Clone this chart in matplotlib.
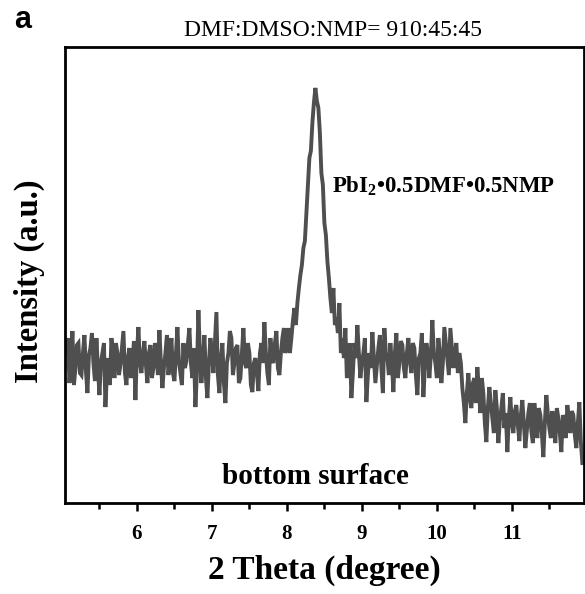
import numpy as np
import matplotlib
matplotlib.use('Agg')
import matplotlib.pyplot as plt

# XRD scan, step 0.02 deg starting at 5.06 deg
start_2theta = 5.06
step_2theta = 0.02

# 5.06 - 7.98 : flat background
background_left = [150, 165, 120, 140, 172, 118, 135, 158, 160, 130, 128, 150, 168, 132, 110, 148, 155, 170, 140, 122,
                   165, 135, 108, 140, 150, 160, 96, 130, 145, 118, 165, 150, 125, 160, 150, 128, 138, 155, 172, 130,
                   118, 145, 155, 125, 140, 162, 103, 150, 176, 140, 130, 150, 162, 138, 120, 150, 158, 125, 135, 160,
                   150, 128, 173, 140, 115, 135, 150, 168, 128, 145, 165, 130, 122, 150, 176, 142, 130, 118, 160, 135,
                   142, 160, 175, 140, 125, 155, 96, 130, 193, 150, 120, 145, 168, 125, 105, 140, 165, 150, 130, 160,
                   191, 128, 110, 145, 160, 120, 100, 140, 150, 172, 165, 128, 140, 155, 158, 120, 125, 150, 175, 140,
                   135, 160, 150, 118, 111, 140, 145, 130, 112, 150, 160, 140, 181, 150, 130, 118, 165, 145, 140, 160,
                   172, 135, 128, 150, 165, 175, 150]
# 8.00 - 8.80 : solvate peak
peak = [160, 175, 150, 165, 182, 195, 178, 200, 215, 228,
        238, 255, 262, 290, 318, 345, 352, 380, 400, 415,
        402, 395, 370, 330, 318, 280, 268, 242, 225, 205,
        190, 215, 178, 185, 170, 200, 150, 165, 145, 175, 125]
# 8.82 - 10.30
background_mid = [140, 160, 105, 130, 160, 145, 178, 150, 125, 140, 150, 165, 101, 128, 150, 135, 171, 145, 120, 138,
                  155, 168, 135, 110, 175, 150, 145, 128, 160, 140, 111, 150, 170, 125, 140, 162, 158, 135, 125, 150,
                  165, 142, 130, 160, 155, 128, 108, 145, 150, 170, 106, 135, 160, 150, 125, 148, 183, 150, 140, 125,
                  165, 150, 120, 140, 176, 160, 145, 128, 175, 155, 135, 150, 160, 130, 150]
# 10.32 - 11.94 : after the step down
background_right = [140, 115, 100, 80, 110, 130, 105, 95, 120, 125, 100, 136, 115, 90, 125, 110, 80, 61, 95, 116,
                    100, 85, 70, 113, 95, 60, 82, 95, 110, 75, 90, 51, 85, 106, 80, 70, 92, 98, 78, 62,
                    88, 103, 80, 55, 72, 90, 100, 72, 60, 100, 85, 65, 95, 88, 70, 46, 80, 108, 90, 75,
                    65, 92, 78, 60, 95, 85, 70, 51, 88, 82, 65, 98, 85, 70, 92, 88, 68, 55, 80, 101,
                    62, 40]

intensity = np.array(background_left + peak + background_mid + background_right)
two_theta = start_2theta + step_2theta * np.arange(len(intensity))

plt.rcParams['mathtext.fontset'] = 'custom'
plt.rcParams['mathtext.rm'] = 'Liberation Serif'
plt.rcParams['mathtext.bf'] = 'Liberation Serif:bold'

serif = ['Liberation Serif', 'DejaVu Serif']

fig = plt.figure(figsize=(5.85, 5.94), dpi=100)
ax = fig.add_axes([0.111, 0.153, 0.887, 0.768])

ax.plot(two_theta, intensity, color='#4f4f4f', lw=2.8, solid_joinstyle='miter')

ax.set_xlim(5.04, 11.96)
ax.set_ylim(0, 456)
ax.set_xticks([6, 7, 8, 9, 10, 11])
ax.set_xticks(np.arange(5.5, 12, 1.0), minor=True)
ax.set_yticks([])
ax.tick_params(axis='x', which='major', direction='out', length=6, width=1.8, pad=9)
ax.tick_params(axis='x', which='minor', direction='out', length=4, width=1.8)
for lab in ax.get_xticklabels():
    lab.set_family(serif)
    lab.set_fontweight('bold')
    lab.set_fontsize(15)
for sp in ax.spines.values():
    sp.set_linewidth(2.0)

ax.set_xlabel('2 Theta (degree)', family=serif, fontweight='bold', fontsize=24, labelpad=8)
ax.set_ylabel('Intensity (a.u.)', family=serif, fontweight='bold', fontsize=23.5)
ax.yaxis.set_label_coords(-0.038, 0.487)

ax.text(0.514, 0.695, r'PbI$_\mathbf{2}$•0.5DMF•0.5NMP', transform=ax.transAxes,
        family=serif, fontweight='bold', fontsize=16.5, ha='left', va='center')
ax.text(0.482, 0.059, 'bottom surface', transform=ax.transAxes,
        family=serif, fontweight='bold', fontsize=21, ha='center', va='center')

fig.text(0.57, 0.948, 'DMF:DMSO:NMP= 910:45:45', family=serif, fontsize=17,
         ha='center', va='center')
fig.text(0.038, 0.967, 'a', family=['Liberation Sans', 'DejaVu Sans'], fontweight='bold',
         fontsize=22, ha='center', va='center')

fig.savefig('out.png', dpi=100)
